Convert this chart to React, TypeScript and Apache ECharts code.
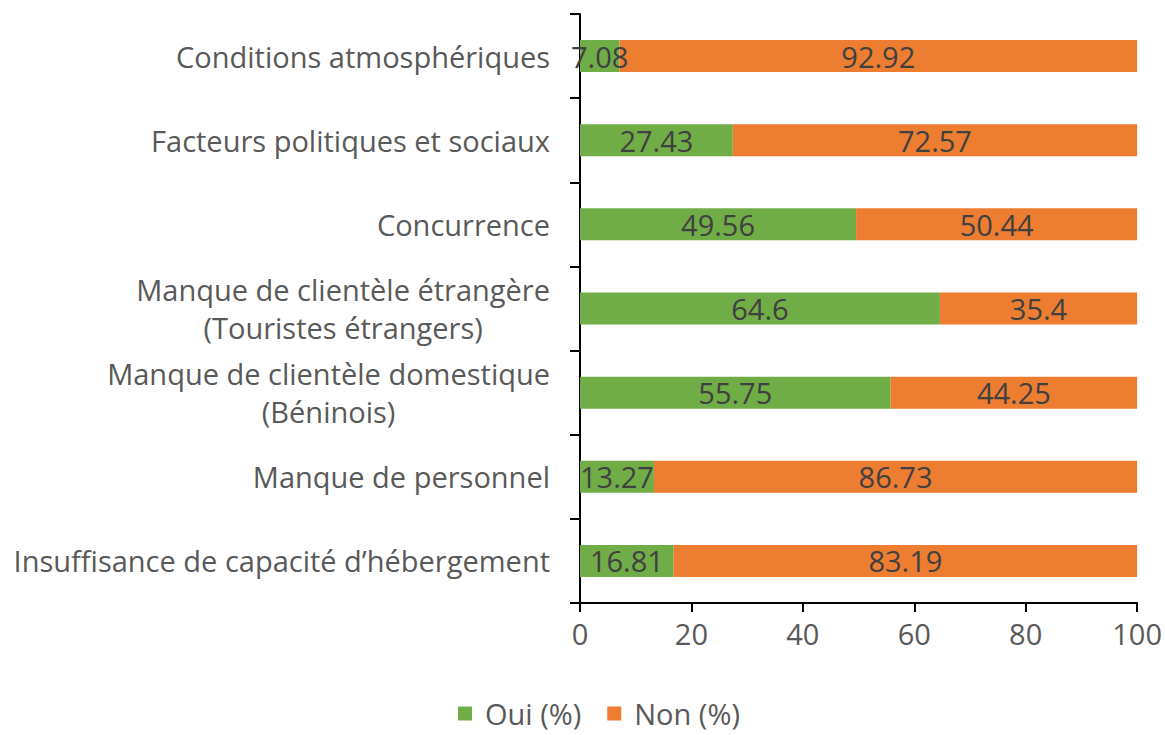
import React, { useEffect, useRef } from "react";
import * as echarts from "echarts";

const categories = [
  "Insuffisance de capacité d’hébergement",
  "Manque de personnel",
  "Manque de clientèle domestique\n(Béninois)",
  "Manque de clientèle étrangère\n(Touristes étrangers)",
  "Concurrence",
  "Facteurs politiques et sociaux",
  "Conditions atmosphériques",
];
const ouiValues = [16.81, 13.27, 55.75, 64.6, 49.56, 27.43, 7.08];
const nonValues = [83.19, 86.73, 44.25, 35.4, 50.44, 72.57, 92.92];
const xTicks = { min: 0, max: 100, interval: 20 };

const FONT = "Open Sans";
const FS = 29;

export default function App() {
  const ref = useRef<HTMLDivElement>(null);
  useEffect(() => {
    if (!ref.current) return;
    const chart = echarts.init(ref.current, undefined, { renderer: "svg" });
    const labelStyle = {
      show: true,
      position: "inside",
      color: "#404040",
      fontSize: FS,
      fontFamily: FONT,
    };
    chart.setOption({
      animation: false,
      textStyle: { fontFamily: FONT },
      grid: { left: 580, right: 27, top: 14, bottom: 132, containLabel: false },
      legend: {
        data: ["Oui (%)", "Non (%)"],
        left: 453,
        top: 694,
        icon: "rect",
        itemWidth: 14,
        itemHeight: 14,
        itemGap: 26,
        formatter: (name: string) => `{t|${name}}`,
        textStyle: {
          fontSize: FS,
          color: "#595959",
          fontFamily: FONT,
          rich: {
            t: {
              fontSize: FS,
              color: "#595959",
              fontFamily: FONT,
              lineHeight: 32,
              padding: [0, 0, 0, 8],
            },
          },
        },
      },
      xAxis: {
        type: "value",
        min: xTicks.min,
        max: xTicks.max,
        interval: xTicks.interval,
        splitLine: { show: false },
        axisLine: { show: true, lineStyle: { color: "#000", width: 2 } },
        axisTick: { show: true, length: 9, lineStyle: { color: "#000", width: 2 } },
        axisLabel: { fontSize: FS, color: "#595959", margin: 16, fontFamily: FONT },
      },
      yAxis: {
        type: "category",
        data: categories,
        axisLine: { show: true, lineStyle: { color: "#000", width: 2 } },
        axisTick: { show: true, length: 10, alignWithLabel: false, lineStyle: { color: "#000", width: 2 } },
        axisLabel: {
          margin: 30,
          formatter: (v: string) => `{c|${v.split("\n").join("}\n{c|")}}`,
          rich: {
            c: {
              fontSize: FS,
              color: "#595959",
              fontFamily: FONT,
              align: "center",
              lineHeight: 38,
            },
          },
        },
      },
      series: [
        {
          name: "Oui (%)",
          type: "bar",
          stack: "total",
          data: ouiValues,
          barWidth: 32,
          itemStyle: { color: "#70AD47" },
          label: labelStyle,
        },
        {
          name: "Non (%)",
          type: "bar",
          stack: "total",
          data: nonValues,
          barWidth: 32,
          itemStyle: { color: "#ED7D31" },
          label: labelStyle,
        },
      ],
    });
    return () => chart.dispose();
  }, []);
  return (
    <div
      ref={ref}
      style={{ position: "fixed", left: 0, top: 0, width: 1165, height: 735, background: "#fff" }}
    />
  );
}
